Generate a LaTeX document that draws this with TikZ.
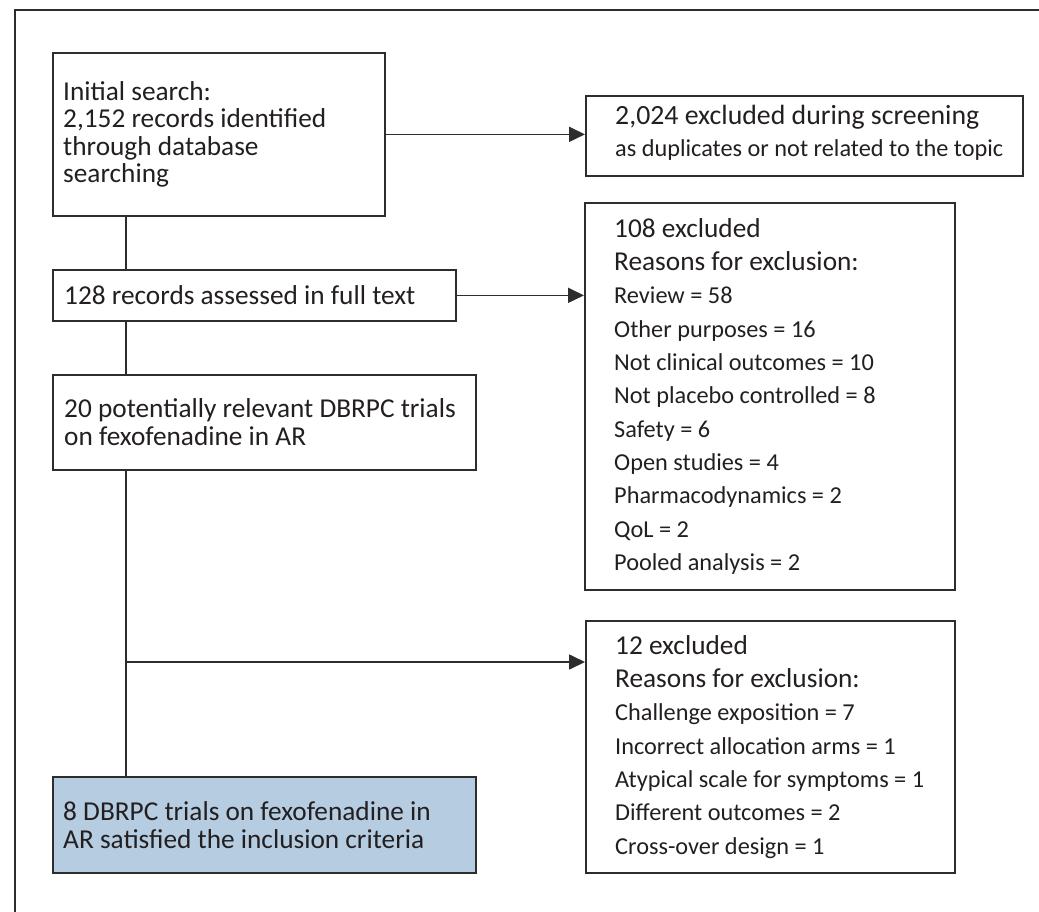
\documentclass[tikz,border=0pt]{standalone}
\usepackage{fontspec}
\setmainfont{Carlito}
\usetikzlibrary{arrows.meta,calc}
\definecolor{ln}{RGB}{45,45,45}
\definecolor{txt}{RGB}{35,31,32}
\definecolor{incl}{RGB}{181,204,225}
\begin{document}
\begin{tikzpicture}[x=1pt,y=-1pt,
  box/.style={draw=ln,line width=1.7pt,anchor=north west,inner sep=0pt},
  label/.style={inner sep=0pt,align=left,text=txt,anchor=west,
    font=\fontsize{27.3}{27.6}\selectfont},
  small/.style={font=\fontsize{24.3}{33.3}\selectfont},
  link/.style={draw=ln,line width=1.7pt},
  arrowlink/.style={link,-{Triangle[length=16pt,width=15pt]}}]
\useasboundingbox (0,0) rectangle (1039,911);
\clip (0,0) rectangle (1039,911);
% outer frame
\draw[link] (15,940) -- (15,10) -- (1070,10);
% boxes
\node[box,minimum width=332pt,minimum height=163pt] (b1) at (52,52) {};
\node[box,minimum width=437pt,minimum height=80pt] (b2) at (585,95) {};
\node[box,minimum width=403pt,minimum height=51pt] (b3) at (52,269) {};
\node[box,minimum width=423pt,minimum height=95pt] (b4) at (52,374) {};
\node[box,minimum width=370pt,minimum height=387pt] (b5) at (584,202) {};
\node[box,minimum width=369pt,minimum height=252pt] (b6) at (585,620) {};
\node[box,fill=incl,minimum width=423pt,minimum height=96pt] (b7) at (52,776) {};
% texts
\node[label] (t1) at ([xshift=11pt]b1.west) {Initial search:\\2,152 records identified\\through database\\searching};
\node[label,font=\fontsize{24.3}{32}\selectfont] (t2) at ([xshift=30pt,yshift=3pt]b2.west)
  {{\fontsize{27.8}{32}\selectfont 2,024 excluded during screening}\\as duplicates or not related to the topic};
\node[label] (t3) at ([xshift=12pt]b3.west) {128 records assessed in full text};
\node[label] (t4) at ([xshift=12pt]b4.west) {20 potentially relevant DBRPC trials\\on fexofenadine in AR};
\node[label,small] (t5) at ([xshift=30pt]b5.west)
  {{\fontsize{27.3}{33.3}\selectfont 108 excluded}\\
   {\fontsize{27.3}{33.3}\selectfont Reasons for exclusion:}\\
   Review = 58\\Other purposes = 16\\Not clinical outcomes = 10\\Not placebo controlled = 8\\
   Safety = 6\\Open studies = 4\\Pharmacodynamics = 2\\QoL = 2\\Pooled analysis = 2};
\node[label,small] (t6) at ([xshift=30pt]b6.west)
  {{\fontsize{27.3}{33.3}\selectfont 12 excluded}\\
   {\fontsize{27.3}{33.3}\selectfont Reasons for exclusion:}\\
   Challenge exposition = 7\\Incorrect allocation arms = 1\\Atypical scale for symptoms = 1\\
   Different outcomes = 2\\Cross-over design = 1};
\node[label] (t7) at ([xshift=11pt]b7.west) {8 DBRPC trials on fexofenadine in\\AR satisfied the inclusion criteria};
% connectors
\coordinate (spine) at (126,0);
\coordinate (br) at (126,662);
\draw[arrowlink] (b1.east) -- (b1.east -| b2.west);
\draw[arrowlink] (b3.east) -- (b3.east -| b5.west);
\draw[link] (b1.south -| spine) -- (b3.north -| spine);
\draw[link] (b3.south -| spine) -- (b4.north -| spine);
\draw[link] (b4.south -| spine) -- (b7.north -| spine);
\draw[arrowlink] (br) -- (br -| b6.west);
\end{tikzpicture}
\end{document}
